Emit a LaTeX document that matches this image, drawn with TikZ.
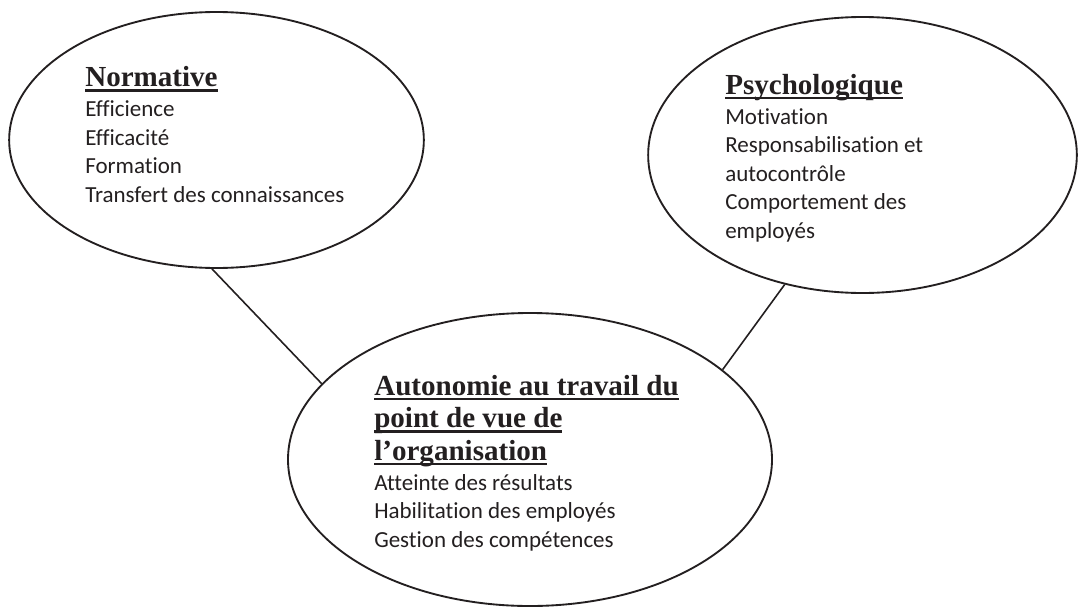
\documentclass[tikz,border=0pt]{standalone}
\usepackage{fontspec}
\setmainfont{Carlito}[Ligatures=NoCommon]
\newfontfamily\headfont{Liberation Serif}
\usetikzlibrary{shapes.geometric,positioning}
\definecolor{ink}{RGB}{35,31,32}
\newcommand\blocktitle[1]{\setbox0\hbox{#1}\rlap{\rule[-4pt]{\wd0}{1.9pt}}\box0}

\begin{document}
\begin{tikzpicture}[x=0.75pt, y=-0.75pt,
  bubble/.style={ellipse, draw=ink, line width=1.4pt, inner sep=0pt},
  hd/.style={anchor=north west, inner sep=0pt, align=left, text=ink,
             font=\fontsize{21.8}{24.4}\selectfont\headfont\bfseries},
  items/.style={inner sep=0pt, align=left, text=ink,
                font=\fontsize{17.25}{21.4}\selectfont},
  link/.style={draw=ink, line width=1.2pt}]
\useasboundingbox (0,0) rectangle (1078,607);

\node[bubble, minimum width=311pt, minimum height=192pt] (norm) at (216.5,140) {};
\node[bubble, minimum width=321.5pt, minimum height=207pt] (psy) at (862.5,155) {};
\node[bubble, minimum width=363pt, minimum height=219.75pt] (orga) at (530,459.5) {};

\node[hd] (normhead) at (85,63.5) {\strut\blocktitle{Normative}};
\node[items, below right=0pt of normhead.south west] (normlist) {\strut Efficience\\
\strut Efficacité\\ \strut Formation\\ \strut Transfert des connaissances};

\node[hd] (psyhead) at (725,71) {\strut\blocktitle{Psychologique}};
\node[items, below right=0pt of psyhead.south west] (psylist) {\strut Motivation\\
\strut Responsabilisation et\\ \strut autocontrôle\\ \strut Comportement des\\ \strut employés};

\node[hd] (orgahead) at (374,372) {\strut\blocktitle{Autonomie au travail du}\\
\strut\blocktitle{point de vue de}\\ \strut\blocktitle{l’organisation}};
\node[items, below right=0pt of orgahead.south west] (orgalist) {\strut Atteinte des résultats\\
\strut Habilitation des employés\\ \strut Gestion des compétences};

\draw[link] (norm.268) -- (orga.160);
\draw[link] (psy.239) -- (orga.25);
\end{tikzpicture}
\end{document}
